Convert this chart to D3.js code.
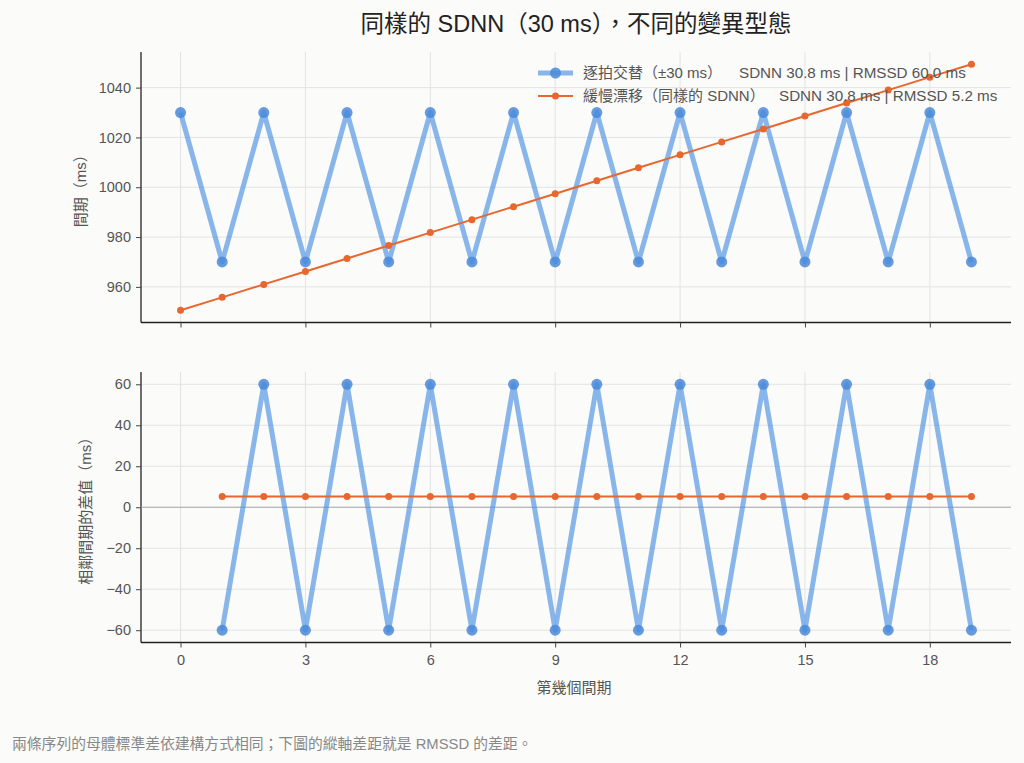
<!DOCTYPE html>
<html><head><meta charset="utf-8">
<script src="https://cdn.jsdelivr.net/npm/d3@7"></script>
<style>
body{margin:0;background:#fbfbf9;}
svg{display:block;font-family:"Liberation Sans","Noto Sans CJK TC",sans-serif;}
</style></head><body>
<svg id="c" width="1024" height="763"></svg>
<script>
const beats = d3.range(20);
const altValues = [1030,970,1030,970,1030,970,1030,970,1030,970,1030,970,1030,970,1030,970,1030,970,1030,970];
const driftValues = [950.6,955.8,961.0,966.2,971.4,976.6,981.8,987.0,992.2,997.4,1002.6,1007.8,1013.0,1018.2,1023.4,1028.6,1033.8,1039.0,1044.2,1049.4];
const diffBeats = d3.range(1,20);
const altDiffs = [-60,60,-60,60,-60,60,-60,60,-60,60,-60,60,-60,60,-60,60,-60,60,-60];
const driftDiffs = [5.2,5.2,5.2,5.2,5.2,5.2,5.2,5.2,5.2,5.2,5.2,5.2,5.2,5.2,5.2,5.2,5.2,5.2,5.2];
const xTicks = [0,3,6,9,12,15,18];
const topTicks = [960,980,1000,1020,1040];
const botTicks = [-60,-40,-20,0,20,40,60];
const legendLabels = ["逐拍交替（±30 ms）","緩慢漂移（同樣的 SDNN）"];
const legendStats = ["SDNN 30.8 ms | RMSSD 60.0 ms","SDNN 30.8 ms | RMSSD 5.2 ms"];

const BLUE_LINE = "#4a90e2", BLUE_PT = "#4a8ad8", ORANGE = "#e8672f";
const svg = d3.select("#c");
const L = 141, R = 1011;
const x = d3.scaleLinear().domain([-0.95, 19.95]).range([L, R]);
const yTop = d3.scaleLinear().domain([945.7, 1054.3]).range([322.5, 52]);
const yBot = d3.scaleLinear().domain([-66, 66]).range([642.5, 372]);

svg.append("text").attr("x", 576).attr("y", 32).attr("text-anchor","middle")
  .attr("font-size", 23.5).attr("fill","#222").text("同樣的 SDNN（30 ms），不同的變異型態");

function panel(y, yt, showLabels, ylabel, lx) {
  const g = svg.append("g");
  const [y0, y1] = y.range();
  g.selectAll(null).data(xTicks).join("line")
    .attr("x1", d=>x(d)).attr("x2", d=>x(d)).attr("y1", y1).attr("y2", y0)
    .attr("stroke","#e3e3e3").attr("stroke-width",1);
  g.selectAll(null).data(yt).join("line")
    .attr("x1", L).attr("x2", R).attr("y1", d=>y(d)).attr("y2", d=>y(d))
    .attr("stroke","#e3e3e3").attr("stroke-width",1);
  const ax = g.append("g").attr("transform",`translate(0,${y0})`)
    .call(d3.axisBottom(x).tickValues(xTicks).tickSize(5).tickPadding(7).tickFormat(showLabels? d3.format("d") : ""));
  const ay = g.append("g").attr("transform",`translate(${L},0)`)
    .call(d3.axisLeft(y).tickValues(yt).tickSize(5).tickPadding(5).tickFormat(d=> d<0 ? "\u2212"+Math.abs(d) : d));
  [ax, ay].forEach(a=>{
    a.select(".domain").attr("stroke","#222").attr("stroke-width",1.3);
    a.selectAll(".tick line").attr("stroke","#444");
    a.selectAll(".tick text").attr("fill","#555").attr("font-size",14.5).attr("font-family","'Liberation Sans',sans-serif");
  });
  ax.select(".domain").attr("d", `M${L},0H${R}`);
  ay.select(".domain").attr("d", `M0,${y0}V${y1}`);
  g.append("text").attr("transform",`translate(${lx},${(y0+y1)/2}) rotate(-90)`)
    .attr("text-anchor","middle").attr("dominant-baseline","central")
    .attr("font-size",15).attr("fill","#555").text(ylabel);
  return g;
}

const gt = panel(yTop, topTicks, false, "間期（ms）", 80);
const gb = panel(yBot, botTicks, true, "相鄰間期的差值（ms）", 85);
gb.append("line").attr("x1",L).attr("x2",R).attr("y1",yBot(0)).attr("y2",yBot(0))
  .attr("stroke","#aaa").attr("stroke-width",1.2);

function series(g, xs, ys, y, lc, pc, lw, r, lop) {
  const line = d3.line().x((d,i)=>x(xs[i])).y(d=>y(d));
  g.append("path").datum(ys).attr("d", line).attr("fill","none")
    .attr("stroke", lc).attr("stroke-width", lw).attr("stroke-opacity", lop).attr("stroke-linejoin","round");
  g.selectAll(null).data(ys).join("circle").attr("cx",(d,i)=>x(xs[i])).attr("cy",d=>y(d))
    .attr("r", r).attr("fill", pc).attr("fill-opacity", lop<1?0.85:1);
}
series(gt, beats, altValues, yTop, BLUE_LINE, BLUE_PT, 5, 5.5, 0.65);
series(gt, beats, driftValues, yTop, ORANGE, ORANGE, 2, 3.5, 1);
series(gb, diffBeats, altDiffs, yBot, BLUE_LINE, BLUE_PT, 5, 5.5, 0.65);
series(gb, diffBeats, driftDiffs, yBot, ORANGE, ORANGE, 2, 3.5, 1);

svg.append("text").attr("x",574).attr("y",693).attr("text-anchor","middle")
  .attr("font-size",15).attr("fill","#555").text("第幾個間期");

// legend
const lg = svg.append("g");
const ly = [73, 96];
lg.append("line").attr("x1",538).attr("x2",573).attr("y1",ly[0]).attr("y2",ly[0])
  .attr("stroke",BLUE_LINE).attr("stroke-width",5).attr("stroke-opacity",0.65);
lg.append("circle").attr("cx",555.5).attr("cy",ly[0]).attr("r",5.5).attr("fill",BLUE_PT).attr("fill-opacity",0.85);
lg.append("line").attr("x1",538).attr("x2",573).attr("y1",ly[1]).attr("y2",ly[1])
  .attr("stroke",ORANGE).attr("stroke-width",2);
lg.append("circle").attr("cx",555.5).attr("cy",ly[1]).attr("r",3.5).attr("fill",ORANGE);
lg.selectAll(null).data(legendLabels).join("text").attr("x",583).attr("y",(d,i)=>ly[i]+5)
  .attr("font-size",15).attr("fill","#555").text(d=>d);
lg.append("text").attr("x",739).attr("y",ly[0]+5).attr("font-size",15.2).attr("fill","#555").text(legendStats[0]);
lg.append("text").attr("x",779).attr("y",ly[1]+5).attr("font-size",15.2).attr("fill","#555").text(legendStats[1]);

svg.append("text").attr("x",12).attr("y",749).attr("font-size",14.8).attr("fill","#888")
  .text("兩條序列的母體標準差依建構方式相同；下圖的縱軸差距就是 RMSSD 的差距。");
</script>
</body></html>
